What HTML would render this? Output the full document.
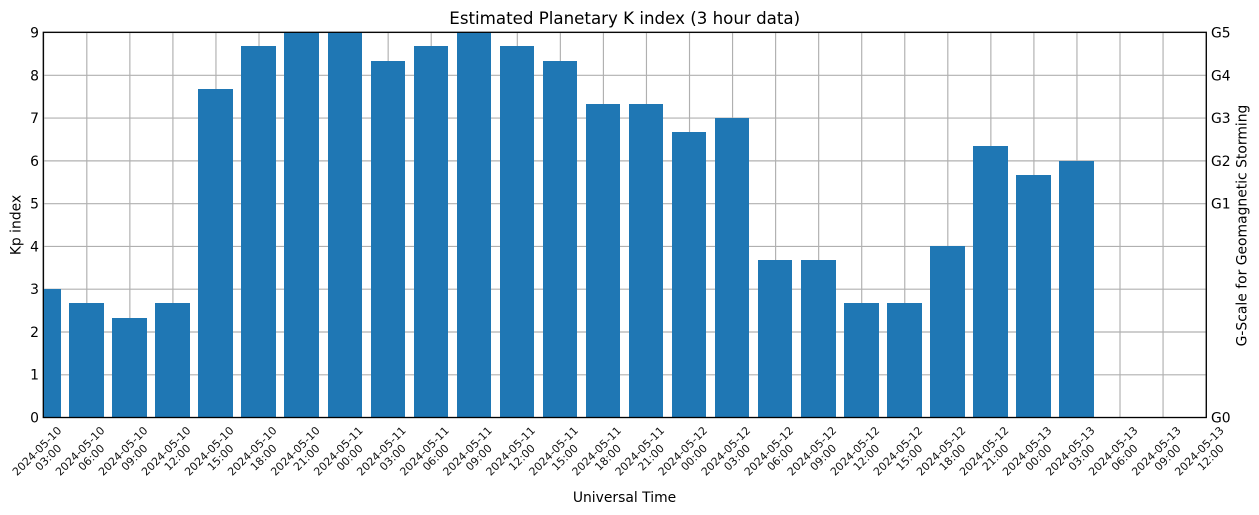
<!DOCTYPE html>
<html>
<head>
<meta charset="utf-8">
<title>Estimated Planetary K index</title>
<style>
html,body{margin:0;padding:0;background:#fff}
svg{display:block;font-family:"DejaVu Sans","Liberation Sans",sans-serif}
</style>
</head>
<body>
<svg id="chart" xmlns="http://www.w3.org/2000/svg" width="1259" height="515" viewBox="0 0 1259 515">
<rect width="1259" height="515" fill="#fff"/>
<g id="grid"></g>
<g id="bars"></g>
<rect x="43.3" y="32.3" width="1163" height="385.2" fill="none" stroke="#000" stroke-width="1.3"/>
<g id="yticks"></g>
<g id="gticks"></g>
<g id="xticks"></g>
<text x="624.7" y="24" font-size="16.67" text-anchor="middle" fill="#000">Estimated Planetary K index (3 hour data)</text>
<text x="624.5" y="502" font-size="13.9" text-anchor="middle" fill="#000">Universal Time</text>
<text transform="translate(20.5,225) rotate(-90)" font-size="13.9" text-anchor="middle" fill="#000">Kp index</text>
<text transform="translate(1246.5,225.5) rotate(-90)" font-size="13.9" text-anchor="middle" fill="#000">G-Scale for Geomagnetic Storming</text>
</svg>
<script>
const timeLabels = [
  ["2024-05-10","03:00"],["2024-05-10","06:00"],["2024-05-10","09:00"],["2024-05-10","12:00"],
  ["2024-05-10","15:00"],["2024-05-10","18:00"],["2024-05-10","21:00"],["2024-05-11","00:00"],
  ["2024-05-11","03:00"],["2024-05-11","06:00"],["2024-05-11","09:00"],["2024-05-11","12:00"],
  ["2024-05-11","15:00"],["2024-05-11","18:00"],["2024-05-11","21:00"],["2024-05-12","00:00"],
  ["2024-05-12","03:00"],["2024-05-12","06:00"],["2024-05-12","09:00"],["2024-05-12","12:00"],
  ["2024-05-12","15:00"],["2024-05-12","18:00"],["2024-05-12","21:00"],["2024-05-13","00:00"],
  ["2024-05-13","03:00"],["2024-05-13","06:00"],["2024-05-13","09:00"],["2024-05-13","12:00"]
];
const kpValues = [3,2.67,2.33,2.67,7.67,8.67,9,9,8.33,8.67,9,8.67,8.33,7.33,7.33,6.67,7,3.67,3.67,2.67,2.67,4,6.33,5.67,6];
const kpTicks = [0,1,2,3,4,5,6,7,8,9];
const gScaleTicks = ["G0","G1","G2","G3","G4","G5"];
const gScaleKp = [0,5,6,7,8,9];

const NS = "http://www.w3.org/2000/svg";
const plot = {left:43.41,right:1205.76,top:32.2,bottom:417.2};
const xDomainMax = timeLabels.length - 1;
const yDomainMax = 9;
const barWidth = 0.8;
const gridNudge = 0.35;
function xScale(i){ return plot.left + (plot.right - plot.left) * i / xDomainMax; }
function yScale(v){ return plot.bottom - (plot.bottom - plot.top) * v / yDomainMax; }
function make(tag, attrs, parent, txt){
  const el = document.createElementNS(NS, tag);
  for (const k in attrs) el.setAttribute(k, attrs[k]);
  if (txt !== undefined) el.textContent = txt;
  parent.appendChild(el);
  return el;
}
const gridG = document.getElementById("grid");
const barsG = document.getElementById("bars");
const yG = document.getElementById("yticks");
const gG = document.getElementById("gticks");
const xG = document.getElementById("xticks");

kpTicks.forEach(function(t){
  const y = yScale(t) + gridNudge;
  const line = make("line",{x1:plot.left,x2:plot.right+0.5,y1:y,y2:y,stroke:"#b0b0b0","stroke-width":1.15},gridG);
  
  
  const lab = make("text",{x:39,y:yScale(t)+5.3,"font-size":13.9,"text-anchor":"end",fill:"#000"},yG,String(t));
  
  
});

timeLabels.forEach(function(parts,i){
  const x = xScale(i);
  const line = make("line",{x1:x+gridNudge,x2:x+gridNudge,y1:plot.top,y2:plot.bottom,stroke:"#b0b0b0","stroke-width":1.15},gridG);
  
  
  const lab = make("g",{transform:"translate("+(x-6.6)+",451) rotate(-45)","font-size":11,"text-anchor":"middle",fill:"#111"},xG);
  
  
  make("text",{x:0,y:4},lab,parts[0]);
  make("text",{x:3.5,y:16.5},lab,parts[1]);
});

kpValues.forEach(function(v,i){
  const cx = xScale(i);
  const half = (xScale(1)-xScale(0))*barWidth/2;
  const x0 = Math.max(Math.round(cx-half), Math.round(plot.left));
  const x1 = Math.round(cx+half);
  const top = Math.round(yScale(v));
  const bar = make("rect",{x:x0,y:top,width:x1-x0,height:Math.round(yScale(0))-top,fill:"#1f77b4"},barsG);
  
  
});

gScaleTicks.forEach(function(t,i){
  const lab = make("text",{x:1211,y:yScale(gScaleKp[i])+5.3,"font-size":13.9,fill:"#000"},gG,t);
  
  
});
</script>
</body>
</html>
